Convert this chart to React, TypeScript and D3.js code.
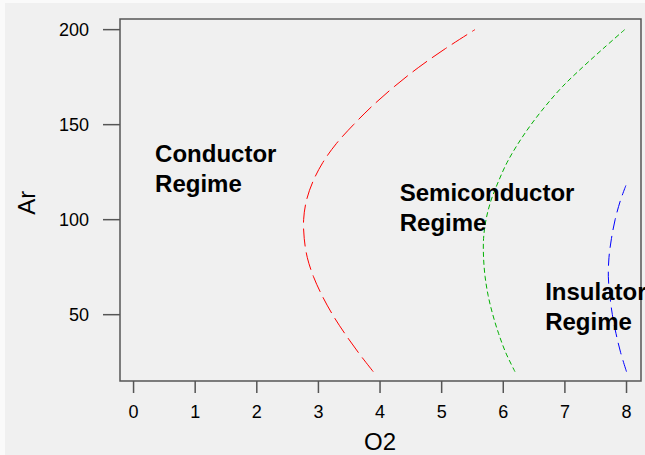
import React from 'react';
import * as d3 from 'd3';

// Ar level (y) and O2 boundary (x) for each regime border
const redAr = [20, 30, 40, 50, 60, 70, 80, 90, 100, 110, 120, 130, 140, 150, 160, 170, 180, 190, 200];
const redO2 = [3.89, 3.65, 3.43, 3.23, 3.06, 2.92, 2.82, 2.77, 2.76, 2.805, 2.91, 3.07, 3.29, 3.57, 3.88, 4.23, 4.62, 5.06, 5.54];

const greenAr = [20, 30, 40, 50, 60, 70, 80, 90, 100, 110, 120, 130, 140, 150, 160, 170, 180, 190, 200];
const greenO2 = [6.19, 6.04, 5.925, 5.83, 5.755, 5.705, 5.68, 5.68, 5.72, 5.8, 5.92, 6.06, 6.24, 6.45, 6.69, 6.96, 7.28, 7.62, 7.97];

const blueAr = [20, 30, 40, 50, 60, 70, 80, 90, 100, 110, 118];
const blueO2 = [8.0, 7.905, 7.83, 7.77, 7.73, 7.705, 7.715, 7.755, 7.815, 7.9, 7.99];

const xTicks = [0, 1, 2, 3, 4, 5, 6, 7, 8];
const yTicks = [50, 100, 150, 200];

const labels = [
  { lines: ['Conductor', 'Regime'], o2: 0.35, ar: 130.5 },
  { lines: ['Semiconductor', 'Regime'], o2: 4.32, ar: 110 },
  { lines: ['Insulator', 'Regime'], o2: 6.68, ar: 57.7 },
];

const W = 645;
const H = 455;
const left = 120, right = 641, top = 19, bottom = 381;
const font = '"Liberation Sans", Arial, sans-serif';

export default function App() {
  const x = d3.scaleLinear().domain([-0.22, 8.235]).range([left, right]);
  const y = d3.scaleLinear().domain([15.1, 205.6]).range([bottom, top]);

  const line = d3
    .line<[number, number]>()
    .x((d) => x(d[0]))
    .y((d) => y(d[1]))
    .curve(d3.curveCatmullRom);

  const curves = [
    { o2: redO2, ar: redAr, color: '#ff0000', dash: '18 6' },
    { o2: greenO2, ar: greenAr, color: '#00b000', dash: '5 3' },
    { o2: blueO2, ar: blueAr, color: '#0000ff', dash: '12 6' },
  ];

  return (
    <svg width={W} height={H} style={{ position: 'absolute', left: 0, top: 0 }}>
      <rect x={0} y={0} width={W} height={H} fill="#fafafa" />
      <rect x={5} y={3} width={W - 5} height={H - 3} fill="#f0f0f0" />

      {curves.map((c, i) => (
        <path
          key={i}
          d={line(c.o2.map((v, j) => [v, c.ar[j]] as [number, number])) || ''}
          fill="none"
          stroke={c.color}
          strokeWidth={1}
          strokeDasharray={c.dash}
        />
      ))}

      <rect x={left} y={top} width={right - left} height={bottom - top} fill="none" stroke="#555" strokeWidth={1.5} />

      {yTicks.map((t) => (
        <g key={t}>
          <line x1={103} x2={left} y1={y(t)} y2={y(t)} stroke="#555" strokeWidth={1.5} />
          <text x={89} y={y(t) + 6.5} textAnchor="end" fontSize={18} fontFamily={font} fill="#000">
            {t}
          </text>
        </g>
      ))}

      {xTicks.map((t) => (
        <g key={t}>
          <line x1={x(t)} x2={x(t)} y1={bottom} y2={393} stroke="#555" strokeWidth={1.5} />
          <text x={x(t)} y={418} textAnchor="middle" fontSize={18} fontFamily={font} fill="#000">
            {t}
          </text>
        </g>
      ))}

      <text x={x(4)} y={450} textAnchor="middle" fontSize={24} fontFamily={font} fill="#000">
        O2
      </text>
      <text
        transform={`translate(35,${y(100) - 17}) rotate(-90)`}
        textAnchor="middle"
        fontSize={24}
        fontFamily={font}
        fill="#000"
      >
        Ar
      </text>

      {labels.map((l, i) => (
        <text key={i} x={x(l.o2)} y={y(l.ar)} fontSize={24} fontWeight="bold" fontFamily={font} fill="#000">
          {l.lines.map((s, j) => (
            <tspan key={j} x={x(l.o2)} dy={j === 0 ? 0 : 30}>
              {s}
            </tspan>
          ))}
        </text>
      ))}
    </svg>
  );
}
